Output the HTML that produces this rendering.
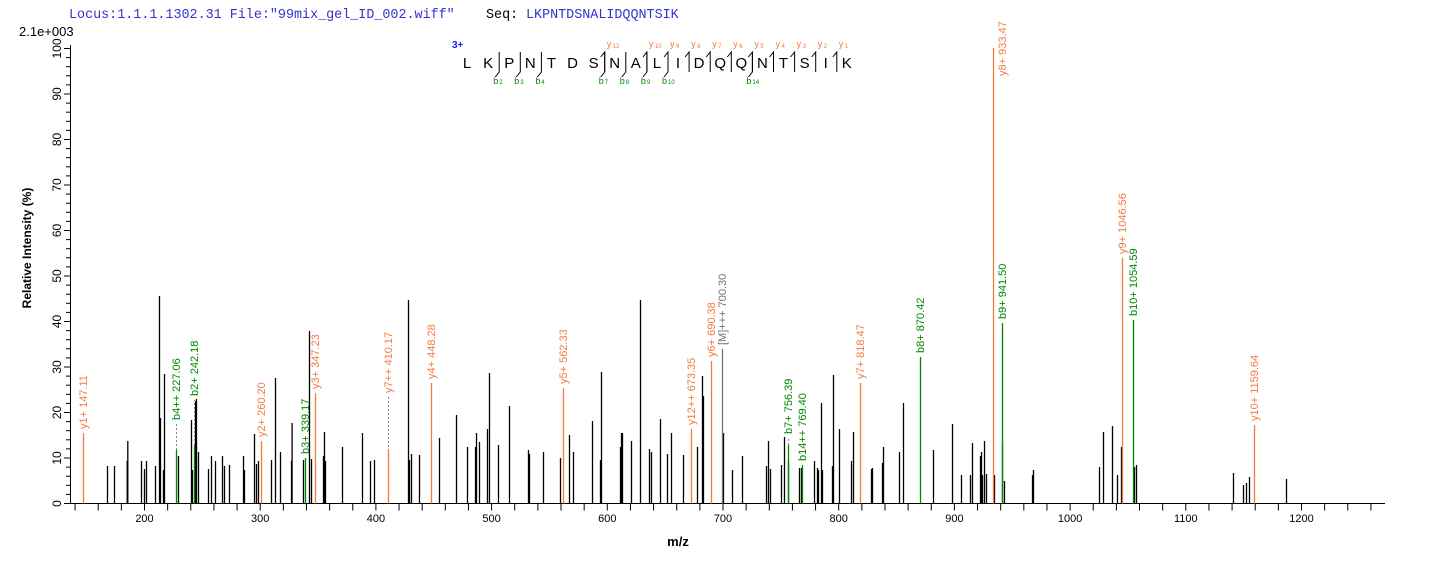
<!DOCTYPE html>
<html><head><meta charset="utf-8"><style>
html,body{margin:0;padding:0;background:#fff;}
svg{display:block;}
</style></head><body>
<svg id="s" width="1436" height="562" xmlns="http://www.w3.org/2000/svg" font-family="Liberation Sans, Arial, sans-serif">
<text x="69" y="18" font-family="Liberation Mono, monospace" font-size="13.4" fill="#3333cc">Locus:1.1.1.1302.31 File:"99mix_gel_ID_002.wiff"</text>
<text x="486" y="18" font-family="Liberation Mono, monospace" font-size="13.4" fill="#000">Seq:</text>
<text x="526" y="18" font-family="Liberation Mono, monospace" font-size="13.4" fill="#3333cc">LKPNTDSNALIDQQNTSIK</text>
<text x="19" y="36" font-size="13" fill="#000">2.1e+003</text>
<text x="0" y="0" font-size="12" font-weight="bold" transform="translate(31,248) rotate(-90)" text-anchor="middle">Relative  Intensity (%)</text>
<text x="678" y="546" font-size="13" font-weight="bold" text-anchor="middle">m/z</text>
<g id="axes" stroke="#000" stroke-width="1"></g>
<g id="peaks"></g>
<g id="seq"></g>
</svg>
<script>
const NS="http://www.w3.org/2000/svg";
function el(p,t,a,txt){const e=document.createElementNS(NS,t);for(const k in a)e.setAttribute(k,a[k]);if(txt!==undefined)e.textContent=txt;p.appendChild(e);return e;}
const ax=document.getElementById('axes'),pk=document.getElementById('peaks'),sq=document.getElementById('seq');
const B=503.5;
el(ax,'line',{x1:70.5,y1:45,x2:70.5,y2:B});
el(ax,'line',{x1:70,y1:B,x2:1385,y2:B});
for(let v=0;v<=100;v+=2){const y=503.5-v*4.55;const maj=v%10==0;el(ax,'line',{x1:maj?64:66,y1:y,x2:70,y2:y});
 if(maj){el(document.getElementById('s'),'text',{x:0,y:0,'font-size':12,'text-anchor':'middle',transform:`translate(${61},${y}) rotate(-90)`,stroke:'none'},String(v));}}
for(let m=140;m<=1260;m+=20){const x=144.5+(m-200)*1.157;el(ax,'line',{x1:x,y1:B,x2:x,y2:B+7});
 if(m%100==0)el(document.getElementById('s'),'text',{x:x,y:522,'font-size':11,'text-anchor':'middle'},String(m));}
const black=[[107,466],[114,466],[126.7,461],[127.3,441],[141,461],[144,469],[146,461],[155,466],[159,296],[160,418],[163,470],[164,374],[178,456],[191,420],[192,470],[195,401],[196,399],[198,452],[208,469],[211,456],[215,461],[222,456],[224,466],[229,465],[243,456],[244,470],[254,434],[256,464],[258,461],[271,460],[275,378],[280,452],[291,461],[291.6,423],[303,460],[309,331],[311,459],[323,456],[324,432],[325,461],[342,447],[362,433],[370,461],[374,460],[408,300],[409,460],[411,454],[419,455],[439,438],[456,415],[467,447],[475,447],[476,433],[479,442],[487,429],[489,373],[498,445],[509,406],[528,450],[529,454],[543,452],[560,458],[569,435],[573,452],[592,421],[600,460],[601,372],[620,447],[621,433],[622,433],[631,441],[640,300],[649,449],[651,452],[660,419],[667,454],[671,433],[683,455],[697,447],[703,396],[702,376],[723,433],[732,470],[742,456],[766,466],[768,441],[770,469],[781,465],[784,437],[788,461],[799,468],[801,468],[814,461],[817,468],[818,470],[821,403],[822,470],[832,466],[833,375],[839,429],[851,461],[853,432],[871,469],[872,468],[882,463],[883,447],[899,452],[903,403],[933,450],[952,424],[961,475],[970,475],[972,443],[980,456],[981,452],[982,475],[984,441],[986,474],[994,475],[1002,443],[1004,481],[1032,475],[1033,470],[1099,467],[1103,432],[1112,426],[1117,475],[1121,447],[1134,467],[1136,465],[1233,473],[1243,485],[1246,483],[1249,477],[1286,479]];
for(const [x,y] of black)el(pk,'line',{x1:x+0.5,y1:B,x2:x+0.5,y2:y,stroke:'#000','stroke-width':1.3});
const O='#f47a42',G='#008800',Gr='#707070';
const col=[[83,433,O,'y1+ 147.11'],[176,424,G,'b4++ 227.06',450],[194,400,G,'b2+ 242.18',445],[261,441,O,'y2+ 260.20'],[305,458,G,'b3+ 339.17'],[315,393,O,'y3+ 347.23'],[388,397,O,'y7++ 410.17',451],[431,383,O,'y4+ 448.28'],[563,388,O,'y5+ 562.33'],[691,429,O,'y12++ 673.35'],[711,361,O,'y6+ 690.38'],[722,349,Gr,'[M]+++ 700.30'],[788,438,G,'b7+ 756.39',445],[802,465,G,'b14++ 769.40'],[860,383,O,'y7+ 818.47'],[920,357,G,'b8+ 870.42'],[993,48,O,'y8+ 933.47'],[1002,323,G,'b9+ 941.50'],[1122,258,O,'y9+ 1046.56'],[1133,320,G,'b10+ 1054.59'],[1254,425,O,'y10+ 1159.64']];
for(const [x,y,c,t,low] of col){
 if(low){el(pk,'line',{x1:x+0.5,y1:low,x2:x+0.5,y2:y,stroke:'#888','stroke-dasharray':'2,2'});el(pk,'line',{x1:x+0.5,y1:B,x2:x+0.5,y2:low,stroke:c,'stroke-width':1.3});}
 else el(pk,'line',{x1:x+0.5,y1:B,x2:x+0.5,y2:y,stroke:c,'stroke-width':1.3});
 if(y<100) el(pk,'text',{x:0,y:0,'font-size':11,fill:c,transform:`translate(${x+13},${76}) rotate(-90)`},t);
 else el(pk,'text',{x:0,y:0,'font-size':11,fill:c,transform:`translate(${x+4},${y-4}) rotate(-90)`},t);}
// sequence
const seq='LKPNTDSNALIDQQNTSIK';
el(sq,'text',{x:452,y:48,'font-size':10,'font-weight':'bold',fill:'#1a1aff'},'3+');
const xs=[];for(let i=0;i<19;i++)xs.push(467+i*21.1);
for(let i=0;i<19;i++)el(sq,'text',{x:xs[i],y:68,'font-size':15,'text-anchor':'middle'},seq[i]);
const ylab={7:12,9:10,10:9,11:8,12:7,13:6,14:5,15:4,16:3,17:2,18:1};
for(const k in ylab){const i=+k;const x=xs[i]-10;el(sq,'polyline',{points:`${x-4},${57} ${x},${52} ${x},${72}`,fill:'none',stroke:'#000'});
 el(sq,'text',{x:x+2,y:47,'font-size':9,fill:O},'y');el(sq,'text',{x:x+8,y:48,'font-size':6,fill:O},String(ylab[k]));}
const blab={2:2,3:3,4:4,7:7,8:8,9:9,10:10,14:14};
for(const k in blab){const i=+k;const x=xs[i]-10;el(sq,'polyline',{points:`${x},${52} ${x},${72} ${x-4},${77}`,fill:'none',stroke:'#000'});
 el(sq,'text',{x:x-6,y:84,'font-size':9,fill:G},'b');el(sq,'text',{x:x,y:84,'font-size':6,fill:G},String(blab[k]));}
</script>
</body></html>
